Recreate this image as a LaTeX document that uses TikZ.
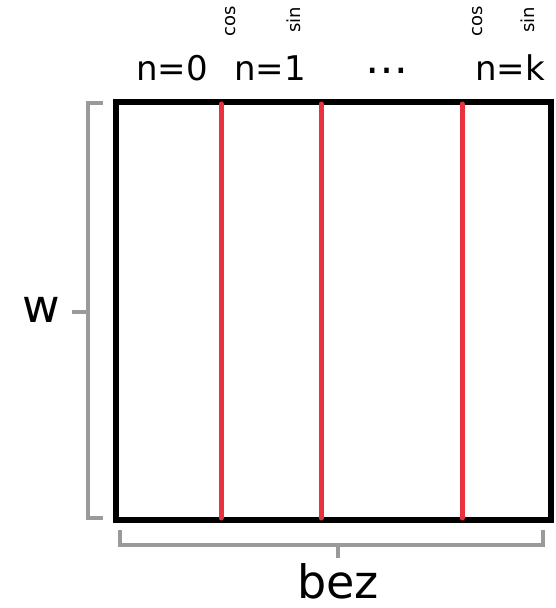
\documentclass[tikz,border=0pt]{standalone}
\usepackage{fontspec}
\setmainfont{DejaVu Sans}
\definecolor{matred}{HTML}{E8333F}
\definecolor{brgray}{HTML}{9A9A9A}
\tikzset{
  boxline/.style={line width=6pt, draw=black},
  redline/.style={line width=5pt, draw=matred, line cap=round},
  bracket/.style={line width=3.5pt, draw=brgray},
  bigtxt/.style={inner sep=0pt, font=\fontsize{34}{40}\selectfont},
  hugetxt/.style={inner sep=0pt, font=\fontsize{46}{50}\selectfont},
  smalltxt/.style={inner sep=0pt, rotate=90, font=\fontsize{18}{20}\selectfont}
}
\begin{document}
\begin{tikzpicture}[x=1pt, y=-1pt]
    \useasboundingbox (0,0) rectangle (556,608);

    % Matrix
    \draw[boxline] (116,102) rectangle (551,520);

    % Columns
    \foreach \x in {221,321,462} {
        \draw[redline] (\x,104) -- (\x,518);
    }

    % Headers
    \node[bigtxt, anchor=base] (n0) at (172,80) {n=0};
    \node[bigtxt, anchor=base] (n1) at (270,80) {n=1};
    \node[inner sep=0pt, anchor=base, font=\fontsize{43}{46}\selectfont] (dots) at (387,73) {…};
    \node[bigtxt, anchor=base] (nk) at (510,80) {n=k};
    \node[smalltxt] (cosa) at (231,21) {cos};
    \node[smalltxt] (sina) at (294,20) {sin};
    \node[smalltxt] (cosb) at (478,21) {cos};
    \node[smalltxt] (sinb) at (528,20) {sin};

    % Left brace
    \draw[bracket] (103,103) -- (88,103) -- (88,518) -- (103,518);
    \draw[bracket] (88,312) -- (72,312);
    \node[hugetxt, anchor=base] (w) at (41,322) {w};

    % Bottom brace
    \draw[bracket] (120,530) -- (120,545) -- (543,545) -- (543,530);
    \draw[bracket] (338,545) -- (338,558);
    \node[hugetxt, anchor=base] (bez) at (338,598) {bez};
\end{tikzpicture}
\end{document}
